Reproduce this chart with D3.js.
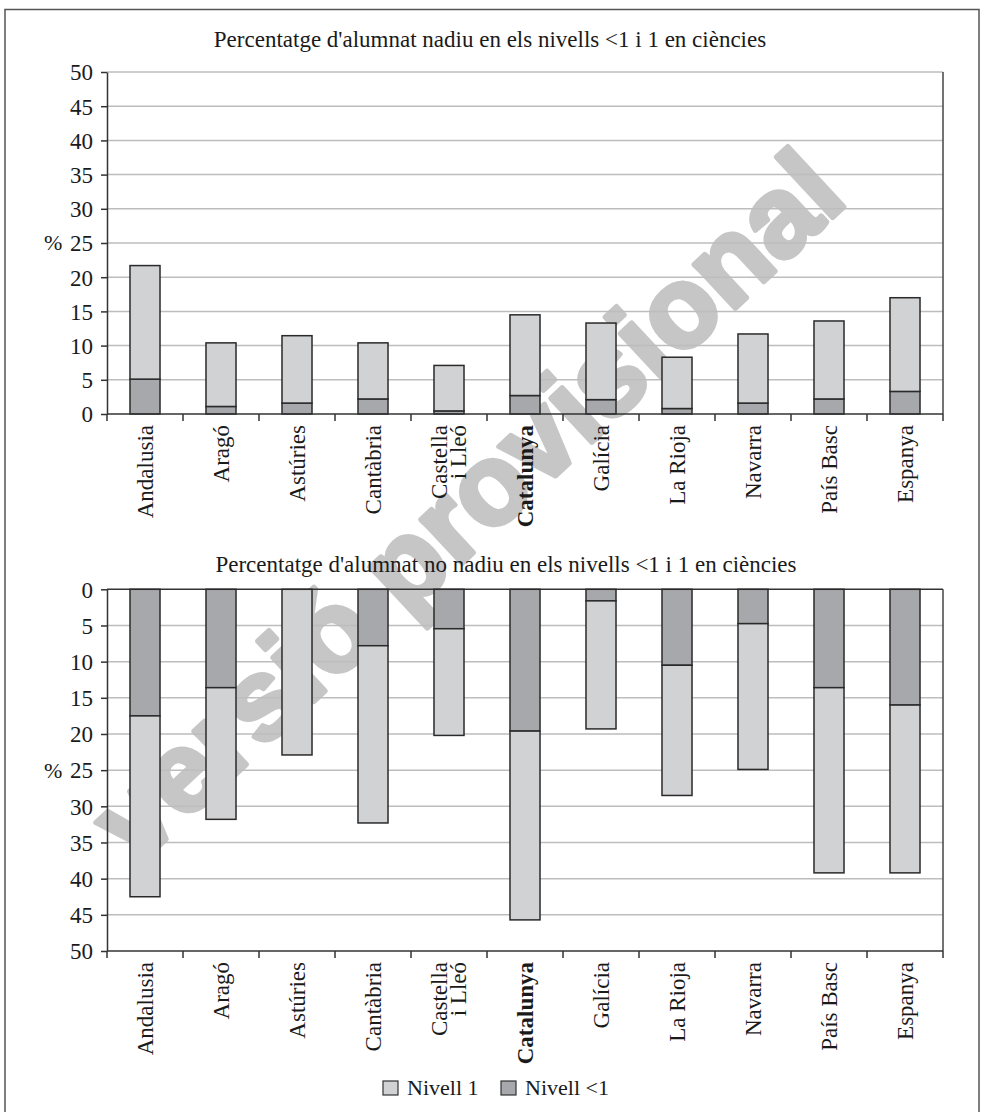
<!DOCTYPE html>
<html><head><meta charset="utf-8">
<script src="https://cdn.jsdelivr.net/npm/d3@7"></script>
<style>
body{margin:0;background:#fff;}
svg{display:block;}
</style></head><body>
<svg id="c" width="984" height="1112"></svg>
<script>
const categories = ["Andalusia","Aragó","Astúries","Cantàbria","Castella i Lleó","Catalunya","Galícia","La Rioja","Navarra","País Basc","Espanya"];
const categoryLines = [["Andalusia"],["Aragó"],["Astúries"],["Cantàbria"],["Castella","i Lleó"],["Catalunya"],["Galícia"],["La Rioja"],["Navarra"],["País Basc"],["Espanya"]];
const boldCategory = "Catalunya";
// Native students (top chart)
const nadiuNivellMenys1 = [5.1,1.1,1.6,2.2,0.45,2.7,2.1,0.8,1.6,2.2,3.3];
const nadiuNivell1 =      [16.6,9.3,9.85,8.2,6.65,11.8,11.2,7.5,10.1,11.4,13.7];
// Non-native students (bottom chart)
const noNadiuNivellMenys1 = [17.5,13.6,0,7.8,5.45,19.6,1.6,10.5,4.75,13.6,16.0];
const noNadiuNivell1 =      [25.0,18.2,22.9,24.5,14.75,26.1,17.7,18.0,20.15,25.6,23.2];
const yTicks = [0,5,10,15,20,25,30,35,40,45,50];
const seriesNames = ["Nivell <1","Nivell 1"];
const legendNames = ["Nivell 1","Nivell <1"];
const titleTop = "Percentatge d'alumnat nadiu en els nivells <1 i 1 en ciències";
const titleBottom = "Percentatge d'alumnat no nadiu en els nivells <1 i 1 en ciències";
const watermark = "versió provisional";

const SERIF = "'Liberation Serif','Times New Roman',serif";
const colors = {"Nivell 1":"#d1d2d4","Nivell <1":"#a7a8ab"};
const svg = d3.select("#c");
const L = 107, R = 943;

svg.append("rect").attr("x",5).attr("y",9.5).attr("width",974).attr("height",1120)
  .attr("fill","none").attr("stroke","#555").attr("stroke-width",1.5);

const x = d3.scaleBand().domain(categories).range([L,R]).paddingInner(0.605).paddingOuter(0.3025);

function makeRows(a,b){ return categories.map((c,i)=>({cat:c,"Nivell <1":a[i],"Nivell 1":b[i]})); }
const stack = d3.stack().keys(seriesNames);

const wmLayer = svg.append("g");

function txt(sel){ return sel.style("font-family",SERIF).style("fill","#1a1a1a"); }

function drawChart(rows, y0, y1, inverted, title, titleX, titleY){
  const y = d3.scaleLinear().domain([0,50]).range(inverted ? [y0,y1] : [y1,y0]);
  const g = svg.append("g");
  g.selectAll("line.grid").data(yTicks.filter(t=>t>0 && t<50 || (!inverted && t===50))).join("line")
    .attr("x1",L).attr("x2",R).attr("y1",d=>y(d)).attr("y2",d=>y(d))
    .attr("stroke","#bdbdbd").attr("stroke-width",1.5);
  if(inverted){
    g.append("line").attr("x1",L).attr("x2",R).attr("y1",y(0)).attr("y2",y(0)).attr("stroke","#333").attr("stroke-width",1.5);
  }
  g.append("line").attr("x1",R).attr("x2",R).attr("y1",y(50)).attr("y2",y(0)).attr("stroke","#444").attr("stroke-width",1.5);
  const series = stack(rows);
  g.selectAll("g.s").data(series).join("g").attr("fill",d=>colors[d.key])
    .selectAll("rect").data(d=>d).join("rect")
    .attr("x",d=>x(d.data.cat)).attr("width",x.bandwidth())
    .attr("y",d=>Math.min(y(d[0]),y(d[1]))).attr("height",d=>Math.abs(y(d[1])-y(d[0])))
    .attr("stroke","#2a2a2a").attr("stroke-width",1.5);
  const ya = g.append("g").attr("transform",`translate(${L},0)`)
    .call(d3.axisLeft(y).tickValues(yTicks).tickSize(6).tickPadding(8).tickSizeOuter(0));
  ya.attr("font-family",null);
  ya.select(".domain").attr("stroke","#333").attr("stroke-width",1.5);
  ya.selectAll(".tick line").attr("stroke","#333").attr("stroke-width",1.5);
  txt(ya.selectAll(".tick text")).style("font-size","23px").attr("dy","0.34em");
  txt(g.append("text").attr("x",44).attr("y",y(25)).attr("dy","0.34em")).style("font-size","22px").text("%");
  const axisY = inverted ? y(50) : y(0);
  g.append("line").attr("x1",L).attr("x2",R).attr("y1",axisY).attr("y2",axisY).attr("stroke","#333").attr("stroke-width",1.5);
  const bounds = categories.map(c=>x(c)-x.step()*x.paddingInner()/2).concat([R]);
  g.selectAll("line.xt").data(bounds).join("line")
    .attr("x1",d=>d).attr("x2",d=>d).attr("y1",axisY).attr("y2",axisY+7)
    .attr("stroke","#333").attr("stroke-width",1.5);
  categoryLines.forEach((lines,i)=>{
    const cx = x(categories[i]) + x.bandwidth()/2;
    const n = lines.length;
    lines.forEach((t,j)=>{
      const off = (j-(n-1)/2)*19;
      txt(g.append("text")
        .attr("transform",`translate(${cx+off},${axisY+11}) rotate(-90)`)
        .attr("text-anchor","end").attr("dy","0.34em"))
        .style("font-size","23px")
        .style("font-weight",categories[i]===boldCategory?"bold":"normal")
        .text(t);
    });
  });
  txt(svg.append("text").attr("x",titleX).attr("y",titleY).attr("text-anchor","middle")).style("font-size","23px").text(title);
}

wmLayer.append("text").attr("transform","translate(466,505) rotate(-43)")
  .attr("text-anchor","middle").attr("dy","0.35em")
  .style("font-family","'Liberation Sans',Arial,sans-serif").style("font-weight","bold")
  .style("font-size","114px").style("fill","#c6c6c6").style("stroke","#c6c6c6").style("stroke-width","5px")
  .style("stroke-linejoin","round").text(watermark);

drawChart(makeRows(nadiuNivellMenys1,nadiuNivell1),72,414,false,titleTop,490,47);
drawChart(makeRows(noNadiuNivellMenys1,noNadiuNivell1),589.3,951,true,titleBottom,506,572);

const lg = svg.append("g");
legendNames.forEach((k,i)=>{
  const gx = i===0 ? 383 : 501;
  lg.append("rect").attr("x",gx).attr("y",1081).attr("width",15).attr("height",14)
    .attr("fill",colors[k]).attr("stroke","#333").attr("stroke-width",1.2);
  txt(lg.append("text").attr("x",gx+24).attr("y",1095)).style("font-size","22px").text(k);
});
</script></body></html>
